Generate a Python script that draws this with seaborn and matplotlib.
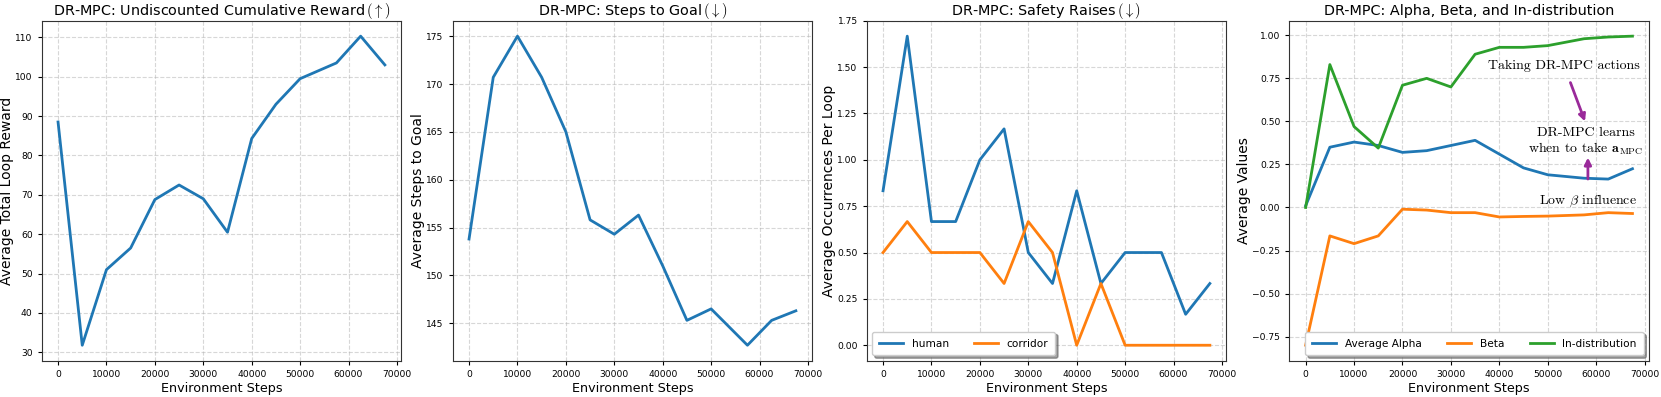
import numpy as np
import pandas as pd
import matplotlib
matplotlib.use("Agg")
import matplotlib.pyplot as plt
import seaborn as sns

plt.rcParams['mathtext.fontset'] = 'cm'
plt.rcParams['font.family'] = ['DejaVu Sans']

steps = [0, 5000, 10000, 15000, 20000, 25000, 30000, 35000, 40000, 45000, 50000, 57500, 62500, 67500]
reward = [88.5, 31.8, 51.0, 56.5, 68.8, 72.5, 69.0, 60.5, 84.3, 93.0, 99.5, 103.5, 110.3, 103.0]
steps_to_goal = [153.8, 170.7, 175.0, 170.7, 165.0, 155.8, 154.3, 156.3, 151.0, 145.3, 146.5, 142.7, 145.3, 146.3]
human = [0.833, 1.667, 0.667, 0.667, 1.0, 1.167, 0.5, 0.333, 0.833, 0.333, 0.5, 0.5, 0.167, 0.333]
corridor = [0.5, 0.667, 0.5, 0.5, 0.5, 0.333, 0.667, 0.5, 0.0, 0.333, 0.0, 0.0, 0.0, 0.0]
alpha = [0.01, 0.35, 0.38, 0.36, 0.32, 0.33, 0.36, 0.39, 0.31, 0.23, 0.19, 0.17, 0.165, 0.225]
beta = [-0.80, -0.165, -0.21, -0.165, -0.01, -0.015, -0.03, -0.03, -0.055, -0.052, -0.05, -0.043, -0.03, -0.035]
in_dist = [0.0, 0.83, 0.47, 0.345, 0.71, 0.75, 0.70, 0.89, 0.93, 0.93, 0.94, 0.98, 0.99, 0.995]

titles = [r"DR-MPC: Undiscounted Cumulative Reward$\,(\uparrow)$",
          r"DR-MPC: Steps to Goal$\,(\downarrow)$",
          r"DR-MPC: Safety Raises$\,(\downarrow)$",
          "DR-MPC: Alpha, Beta, and In-distribution"]
ylabels = ["Average Total Loop Reward", "Average Steps to Goal",
           "Average Occurrences Per Loop", "Average Values"]
xlabel = "Environment Steps"

df = pd.DataFrame({"step": steps, "reward": reward, "goal": steps_to_goal,
                   "human": human, "corridor": corridor,
                   "alpha": alpha, "beta": beta, "indist": in_dist})

W, H = 1661, 397
fig = plt.figure(figsize=(W / 100, H / 100), dpi=100)
lefts = [41.7, 452.7, 866.7, 1289.3]
width = 359.5
top, bottom = 20.7, 360.7
axes = [fig.add_axes([l / W, (H - bottom) / H, width / W, (bottom - top) / H]) for l in lefts]

pal = sns.color_palette("tab10")
lw = 2.0

sns.lineplot(data=df, x="step", y="reward", ax=axes[0], color=pal[0], lw=lw)
sns.lineplot(data=df, x="step", y="goal", ax=axes[1], color=pal[0], lw=lw)
sns.lineplot(data=df, x="step", y="human", ax=axes[2], color=pal[0], lw=lw, label="human")
sns.lineplot(data=df, x="step", y="corridor", ax=axes[2], color=pal[1], lw=lw, label="corridor")
sns.lineplot(data=df, x="step", y="alpha", ax=axes[3], color=pal[0], lw=lw, label="Average Alpha")
sns.lineplot(data=df, x="step", y="beta", ax=axes[3], color=pal[1], lw=lw, label="Beta")
sns.lineplot(data=df, x="step", y="indist", ax=axes[3], color=pal[2], lw=lw, label="In-distribution")

for ax, t, yl in zip(axes, titles, ylabels):
    ax.set_title(t, fontsize=10.4, pad=4)
    ax.set_xlabel(xlabel, fontsize=9.2, labelpad=2)
    ax.set_ylabel(yl, fontsize=10, labelpad=1)
    ax.tick_params(labelsize=6.6, length=3)
    ax.grid(True, linestyle='--', alpha=0.5)
    ax.set_xticks([0, 10000, 20000, 30000, 40000, 50000, 60000, 70000])
    for s in ax.spines.values():
        s.set_color("#333333")

axes[0].set_yticks([30, 40, 50, 60, 70, 80, 90, 100, 110])
axes[1].set_yticks([145, 150, 155, 160, 165, 170, 175])
axes[2].set_yticks([0, 0.25, 0.5, 0.75, 1.0, 1.25, 1.5, 1.75])
axes[2].yaxis.set_major_formatter(matplotlib.ticker.FormatStrFormatter('%.2f'))
axes[3].set_yticks([-0.75, -0.5, -0.25, 0, 0.25, 0.5, 0.75, 1.0])
axes[3].yaxis.set_major_formatter(matplotlib.ticker.FuncFormatter(lambda v, p: f"{v:.2f}".replace('-', '\u2212')))

axes[2].legend(loc="lower left", ncol=2, fontsize=7.6, shadow=True,
               columnspacing=2.4, handlelength=2.3, borderpad=0.65)
axes[3].legend(loc="lower right", ncol=3, fontsize=7.6, shadow=True,
               columnspacing=2.4, handlelength=2.3, borderpad=0.65)

ac = "#9a2a9a"
serif = "cmr10"
ax = axes[3]
ax.annotate("Taking DR-MPC actions", xy=(57700, 0.50), xytext=(53400, 0.822),
            ha="center", va="center", fontsize=10, family=serif,
            arrowprops=dict(arrowstyle="-|>", color=ac, lw=2, mutation_scale=10,
                            shrinkA=6, shrinkB=0))
ax.text(57900, 0.381, "DR-MPC learns\nwhen to take $\\mathbf{a}_{\\mathrm{MPC}}$",
        ha="center", va="center", fontsize=10, family=serif, linespacing=1.15)
ax.annotate("Low $\\beta$ influence", xy=(58300, 0.29), xytext=(58300, 0.037),
            ha="center", va="center", fontsize=10, family=serif,
            arrowprops=dict(arrowstyle="-|>", color=ac, lw=2, mutation_scale=10,
                            shrinkA=8, shrinkB=0))

fig.savefig("out.png", dpi=100)
